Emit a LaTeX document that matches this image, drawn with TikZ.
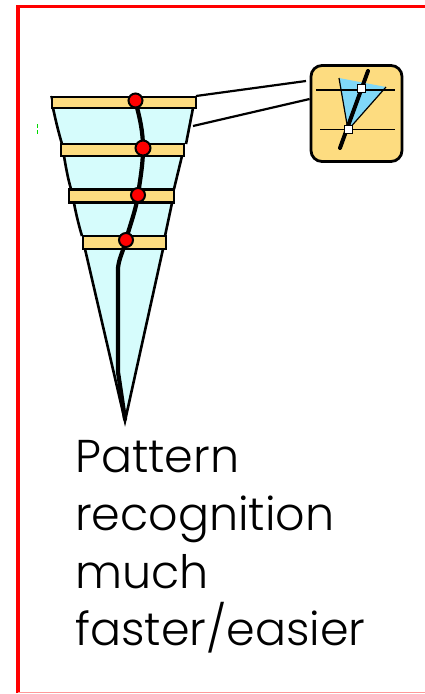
\documentclass[tikz,border=0pt]{standalone}
\usepackage{fontspec}
\setmainfont{Poppins}[UprightFont={* Light}]
\begin{document}
\begin{tikzpicture}[x=1pt,y=-1pt,
  band/.style={fill=bandyellow, draw=black, line width=2.6pt, inner sep=0pt},
  edge/.style={line width=2.6pt},
  dot/.style={circle, fill=red, draw=black, line width=2pt, minimum size=14pt, inner sep=0pt},
  sq/.style={rectangle, fill=white, draw=black, line width=1pt, minimum size=8pt, inner sep=0pt},
  lbl/.style={anchor=base west, inner sep=0pt, font=\fontsize{46}{58}\selectfont}]
\definecolor{bandyellow}{RGB}{253,220,128}
\definecolor{lcyan}{RGB}{214,252,252}
\definecolor{tblue}{RGB}{128,216,248}
\useasboundingbox (0,0) rectangle (424,694);
% frame
\draw[red, line width=3.2pt] (18,693) -- (18,6.5) -- (430,6.5);
\draw[red!40, line width=1.2pt] (18,692.5) -- (430,692.5);
% green mark
\draw[green!85!black, line width=1.6pt] (37.5,124) -- (37.5,127.5) (37.5,130) -- (37.5,133.5);
% funnel sections
\fill[lcyan] (53,108) -- (193,108) -- (186,144) -- (62,144) -- cycle;
\draw[edge] (53,108) .. controls (56,122) and (59,134) .. (62,144);
\draw[edge] (193,108) -- (186,144);
\fill[lcyan] (64,156) -- (182,156) -- (174,189) -- (71,189) -- cycle;
\draw[edge] (64,156) .. controls (66,168) and (68,179) .. (71,189);
\draw[edge] (182,156) -- (174,189);
\fill[lcyan] (74,203) -- (172,203) -- (165,236) -- (82,236) -- cycle;
\draw[edge] (74,203) .. controls (76,214) and (79,226) .. (82,236);
\draw[edge] (172,203) -- (165,236);
\fill[lcyan] (85,249) -- (163,249) -- (125,421) -- cycle;
\draw[edge, line join=miter] (85,249) -- (125,421) -- (163,249);
% bands
\node[band, minimum width=144pt, minimum height=11pt] (b1) at (124,102.5) {};
\node[band, minimum width=123pt, minimum height=12pt] (b2) at (122.5,150) {};
\node[band, minimum width=105pt, minimum height=13pt] (b3) at (121.5,196) {};
\node[band, minimum width=83pt, minimum height=13pt] (b4) at (124.5,242.5) {};
\draw[line width=1.8pt] (51,96) -- (52,100);
% track
\coordinate (apex) at (125,419);
\draw[line width=4.2pt, line cap=round, line join=round]
  (135,100) .. controls (140,118) and (143,132) .. (143,148)
  .. controls (143,165) and (140,180) .. (138,195)
  .. controls (136,210) and (129,228) .. (126,240)
  .. controls (123,252) and (119,258) .. (118,268)
  -- (118,372) -- (apex);
% dots
\node[dot] (d1) at (135.5,100.5) {};
\node[dot, minimum size=15pt] (d2) at (143,148) {};
\node[dot] (d3) at (138,195) {};
\node[dot] (d4) at (126,240) {};
% inset
\node[draw=black, line width=2.8pt, fill=bandyellow, rounded corners=11pt,
  minimum width=91pt, minimum height=96pt, inner sep=0pt] (inset) at (356.5,113.5) {};
\coordinate (c1) at (196,96);
\coordinate (c2) at (193,126);
\draw[line width=2.2pt] (c1) -- (306,81);
\draw[line width=2.2pt] (c2) -- (inset.west |- 0,99);
\fill[tblue] (339,78) -- (386,87) -- (348,130) -- cycle;
\draw[line width=1.2pt] (339,78) -- (348,130) -- (386,87);
\draw[line width=1.5pt] (316,90) -- (395,90);
\draw[line width=1.5pt] (320,129.5) -- (395,129.5);
\draw[line width=4pt, line cap=round] (368,71) -- (340,148);
\node[sq] (s1) at (361,88.5) {};
\node[sq] (s2) at (348,129) {};
% text
\node[lbl] (t1) at (75,472) {Pattern};
\node[lbl] (t2) at (75,530) {recognition};
\node[lbl] (t3) at (75,588) {much};
\node[lbl] (t4) at (75,645) {faster/easier};
\end{tikzpicture}
\end{document}
